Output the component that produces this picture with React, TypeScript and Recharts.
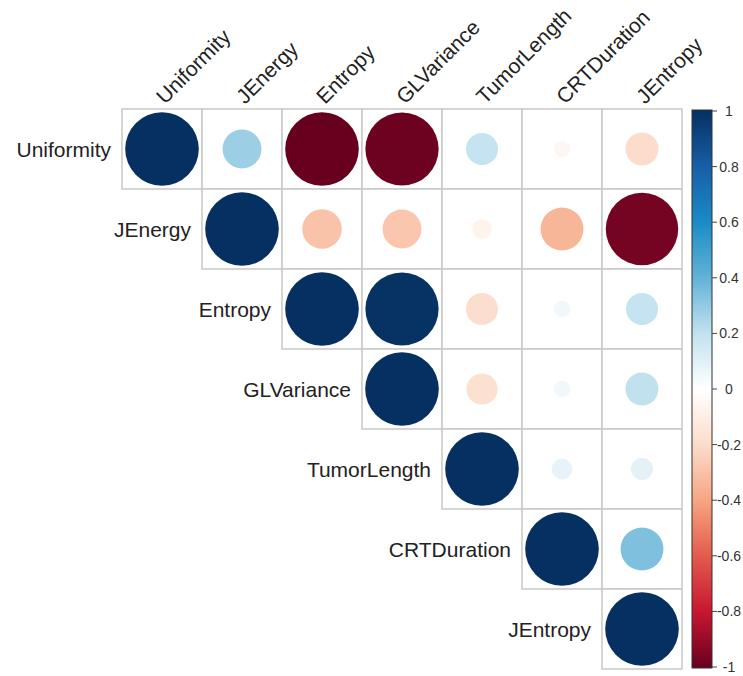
import { ScatterChart, Scatter, XAxis, YAxis, Customized } from 'recharts';

// variable names, in matrix order
const labels = ['Uniformity', 'JEnergy', 'Entropy', 'GLVariance', 'TumorLength', 'CRTDuration', 'JEntropy'];

// upper triangle, each row starts at its diagonal
const uniformityRow = [1, 0.28, -1, -0.99, 0.19, -0.05, -0.2];
const jEnergyRow = [1, -0.29, -0.28, -0.07, -0.34, -0.97];
const entropyRow = [1, 0.99, -0.19, 0.05, 0.19];
const glVarianceRow = [1, -0.18, 0.05, 0.2];
const tumorLengthRow = [1, 0.08, 0.09];
const crtDurationRow = [1, 0.34];
const jEntropyRow = [1];

const colorbarTicks = [1, 0.8, 0.6, 0.4, 0.2, 0, -0.2, -0.4, -0.6, -0.8, -1];

const rows = [uniformityRow, jEnergyRow, entropyRow, glVarianceRow, tumorLengthRow, crtDurationRow, jEntropyRow];

const cells = rows.flatMap((vals, i) =>
  vals.map((r, k) => ({ x: i + k + 1, y: i + 1, r, row: i, col: i + k }))
);

const WIDTH = 743;
const HEIGHT = 676;
const AXIS_H = 100;
const MARGIN = { top: 109 - AXIS_H, right: 61, bottom: 7, left: 122 };
const CELL = (WIDTH - MARGIN.left - MARGIN.right) / labels.length;
const MAX_R = CELL * 0.46;
const FONT = '"Liberation Sans", Arial, sans-serif';

const palette = [
  '#67001f', '#c71630', '#e35a4c', '#f6a582', '#fcdccb', '#ffffff',
  '#c2e1ef', '#62b2d8', '#1a8bc4', '#175ea6', '#053061',
];

function hexToRgb(h: string) {
  return [1, 3, 5].map((i) => parseInt(h.slice(i, i + 2), 16));
}

function corrColor(r: number) {
  const t = ((r + 1) / 2) * (palette.length - 1);
  const i = Math.min(Math.floor(t), palette.length - 2);
  const f = t - i;
  const a = hexToRgb(palette[i]);
  const b = hexToRgb(palette[i + 1]);
  const c = a.map((v, j) => Math.round(v + (b[j] - v) * f));
  return `rgb(${c[0]},${c[1]},${c[2]})`;
}

function CellShape(props: any) {
  const { cx, cy, payload } = props;
  const half = CELL / 2;
  return (
    <g>
      <rect x={cx - half} y={cy - half} width={CELL} height={CELL} fill="#fff" stroke="#c8c8c8" strokeWidth={1.5} />
      <circle cx={cx} cy={cy} r={MAX_R * Math.sqrt(Math.abs(payload.r))} fill={corrColor(payload.r)} />
      {payload.row === payload.col && (
        <text
          x={cx - half - 11}
          y={cy}
          textAnchor="end"
          dominantBaseline="central"
          fontSize={21}
          fontFamily={FONT}
          fill="#222"
        >
          {labels[payload.row]}
        </text>
      )}
    </g>
  );
}

function ColumnTick(props: any) {
  const { x, y, payload } = props;
  return (
    <text
      transform={`translate(${x + 3},${y + 2}) rotate(-45)`}
      textAnchor="start"
      fontSize={21}
      fontFamily={FONT}
      fill="#222"
    >
      {labels[payload.value - 1]}
    </text>
  );
}

function ColorBar() {
  const top = 111;
  const bottom = 667;
  const x0 = 692;
  const w = 20;
  const yOf = (v: number) => top + ((1 - v) / 2) * (bottom - top);
  return (
    <g>
      <defs>
        <linearGradient id="corrbar" x1="0" y1="0" x2="0" y2="1">
          {palette
            .slice()
            .reverse()
            .map((c, i) => (
              <stop key={i} offset={i / (palette.length - 1)} stopColor={c} />
            ))}
        </linearGradient>
      </defs>
      <rect x={x0} y={top - 1} width={w} height={bottom - top + 2} fill="url(#corrbar)" stroke="#333" strokeWidth={1} />
      {colorbarTicks.map((v) => (
        <g key={v}>
          <line x1={x0 + w} x2={x0 + w + 5} y1={yOf(v)} y2={yOf(v)} stroke="#444" strokeWidth={1} />
          <text
            x={729}
            y={yOf(v)}
            textAnchor="middle"
            dominantBaseline="central"
            fontSize={14}
            fontFamily={FONT}
            fill="#333"
          >
            {v}
          </text>
        </g>
      ))}
    </g>
  );
}

export default function App() {
  return (
    <div style={{ position: 'absolute', left: 0, top: 0, background: '#fff' }}>
      <ScatterChart width={WIDTH} height={HEIGHT} margin={MARGIN}>
        <XAxis
          type="number"
          dataKey="x"
          orientation="top"
          domain={[0.5, 7.5]}
          ticks={[1, 2, 3, 4, 5, 6, 7]}
          interval={0}
          height={AXIS_H}
          axisLine={false}
          tickLine={false}
          tickSize={0}
          tickMargin={6}
          tick={<ColumnTick />}
        />
        <YAxis type="number" dataKey="y" domain={[0.5, 7.5]} reversed hide />
        <Scatter data={cells} shape={<CellShape />} isAnimationActive={false} />
        <Customized component={ColorBar} />
      </ScatterChart>
    </div>
  );
}
